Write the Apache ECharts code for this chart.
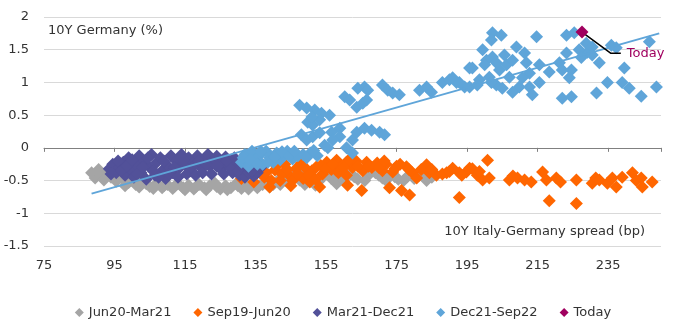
<!DOCTYPE html>
<html><head><meta charset="utf-8">
<script src="https://cdn.jsdelivr.net/npm/echarts@6/dist/echarts.min.js"></script>
<style>html,body{margin:0;padding:0;background:#fff}#c{width:686px;height:336px}</style>
</head><body><div id="c"></div>
<script>
const seriesNames = ['Jun20-Mar21','Sep19-Jun20','Mar21-Dec21','Dec21-Sep22','Today'];
const xTicks = {min:75, max:250, interval:20};
const yTicks = {min:-1.5, max:2, interval:0.5};

const jun20Mar21 = [[88.5,-0.38],[89.5,-0.46],[90.5,-0.33],[91.2,-0.42],[92,-0.49],[93,-0.37],[94,-0.45],[95.5,-0.51],[97,-0.46],[99,-0.53],[101,-0.56],[103,-0.51],[105,-0.59],[107,-0.54],[108.5,-0.61],[110,-0.56],[111.5,-0.62],[113,-0.55],[114.5,-0.61],[116,-0.57],[117.5,-0.63],[119,-0.56],[120.5,-0.61],[122,-0.58],[123.5,-0.54],[125,-0.63],[126.5,-0.58],[128,-0.61],[129.5,-0.55],[131,-0.62],[132.5,-0.58],[134,-0.54],[135.5,-0.61],[137,-0.56],[138.5,-0.50],[140,-0.56],[141.5,-0.49],[143,-0.45],[144.5,-0.53],[146,-0.42],[147.5,-0.49],[149,-0.56],[151,-0.44],[153,-0.51],[155,-0.38],[156.5,-0.47],[158,-0.55],[159.5,-0.42],[162,-0.40],[164,-0.48],[167,-0.42],[169,-0.38],[171,-0.46],[173.5,-0.40],[175.5,-0.48],[178,-0.44],[181.5,-0.42],[183.5,-0.50],[185,-0.45],
[98,-0.58],[100,-0.50],[102,-0.60],[104,-0.55],[106,-0.62],[109,-0.58],[112,-0.59],[115,-0.64],[118,-0.60],[121,-0.64],[124,-0.59],[127,-0.64],[130,-0.58],[133,-0.63],[136,-0.58],[139,-0.60],[142,-0.56],[145,-0.47],[148,-0.40],[150,-0.50],[152,-0.57],[154,-0.45],[157,-0.40],[160,-0.49],[163,-0.44],[166,-0.50],[170,-0.42],[172,-0.50],[174.5,-0.44],[177,-0.50],[180,-0.47]];

const sep19Jun20 = [[131,-0.47],[133,-0.36],[134.5,-0.52],[136.5,-0.27],[137.5,-0.45],[139,-0.60],[140.5,-0.34],[142,-0.50],[143.3,-0.25],[144.5,-0.42],[145,-0.58],[146.5,-0.32],[148,-0.23],[148.5,-0.47],[150.4,-0.52],[151,-0.35],[152.3,-0.29],[153.2,-0.60],[154,-0.40],[155.2,-0.22],[156.5,-0.33],[158,-0.19],[159,-0.30],[160.8,-0.22],[160.8,-0.42],[161.1,-0.57],[162.5,-0.30],[163.5,-0.20],[165.1,-0.65],[165.4,-0.35],[166.5,-0.22],[168,-0.30],[169.5,-0.23],[171,-0.35],[172,-0.25],[173,-0.61],[173.9,-0.37],[175,-0.28],[176.4,-0.65],[177.8,-0.29],[178.7,-0.72],[179.5,-0.38],[180.7,-0.46],[183.5,-0.26],[184.3,-0.38],[186.3,-0.42],[189.2,-0.38],[190.9,-0.31],[192.8,-0.38],[192.8,-0.76],[194.8,-0.37],[195.7,-0.31],[196.5,-0.32],[197.9,-0.42],[199.4,-0.49],[200.8,-0.19],[201.3,-0.46],[207,-0.49],[208,-0.43],[209.3,-0.46],[211.3,-0.49],[213.2,-0.52],[216.4,-0.37],[217.5,-0.49],[218.3,-0.81],[220.3,-0.46],[221.5,-0.52],[226,-0.49],[226,-0.85],[230.5,-0.54],[231.5,-0.46],[232.5,-0.49],[234.8,-0.54],[236.2,-0.46],[237.3,-0.60],[239,-0.45],[241.9,-0.38],[243,-0.50],[244.4,-0.46],[244.7,-0.60],[247.5,-0.52],
[138,-0.38],[139.5,-0.50],[141,-0.28],[142.5,-0.40],[144,-0.33],[145.5,-0.50],[147,-0.40],[149,-0.30],[150,-0.42],[152,-0.48],[153.5,-0.27],[155,-0.32],[157,-0.25],[158.5,-0.38],[160,-0.30],[161.5,-0.18],[164,-0.28],[167,-0.28],[170,-0.30],[171.5,-0.20],[174.5,-0.32],[176,-0.25],[178.5,-0.33],[182,-0.33],[185,-0.33],[188,-0.40],[190,-0.36],[193.5,-0.42],[198.5,-0.36]];

const mar21Dec21 = [[93.5,-0.32],[94.5,-0.25],[95.5,-0.38],[96.5,-0.30],[97.5,-0.22],[98,-0.42],[99,-0.15],[99.5,-0.33],[100.5,-0.45],[101,-0.25],[102,-0.12],[102.5,-0.38],[103.5,-0.20],[104,-0.48],[105,-0.30],[105.5,-0.10],[106.5,-0.42],[107,-0.22],[108,-0.15],[108.5,-0.35],[109.5,-0.47],[110,-0.27],[111,-0.12],[111.5,-0.38],[112.5,-0.20],[113.5,-0.30],[114,-0.10],[115,-0.25],[116,-0.15],[116.5,-0.35],[117.5,-0.22],[118.5,-0.12],[119.5,-0.30],[120.5,-0.18],[121.5,-0.10],[122,-0.28],[123,-0.20],[124,-0.13],[125,-0.32],[125.5,-0.22],[126.5,-0.14],[127.5,-0.28],[128.5,-0.38],[129.5,-0.25],[130.5,-0.42],[131.5,-0.33],[132.5,-0.40],[133.5,-0.30],[134.5,-0.43],[135.5,-0.38],
[94,-0.40],[96,-0.20],[97,-0.35],[98.5,-0.28],[100,-0.18],[101.5,-0.40],[103,-0.30],[104.5,-0.15],[106,-0.35],[107.5,-0.45],[109,-0.20],[110.5,-0.40],[112,-0.30],[113,-0.45],[114.5,-0.18],[115.5,-0.40],[117,-0.30],[118,-0.42],[119,-0.20],[120,-0.38],[121,-0.25],[122.5,-0.40],[124,-0.28],[126,-0.40],[127,-0.20],[128,-0.32],[129,-0.15],[130,-0.35],[131,-0.28],[132,-0.45],[133,-0.38],[134,-0.35],[136.5,-0.30]];

const dec21Sep22 = [[131,-0.22],[132,-0.10],[133,-0.28],[134,-0.05],[135,-0.18],[136,-0.12],[137,-0.25],[138,-0.05],[139,-0.15],[140,-0.22],[141,-0.08],[142,-0.18],[143,-0.12],[144,-0.05],[145.5,-0.17],[147,-0.12],[148.5,-0.10],[150.5,-0.08],[152.5,-0.12],
[131.5,-0.15],[133.5,-0.18],[135.5,-0.25],[136.5,-0.05],[138.5,-0.22],[140.5,-0.14],[142.5,-0.06],[144.5,-0.12],[146,-0.05],[149.5,-0.15],[151.5,-0.04],
[147.5,0.65],[149.5,0.61],[151.8,0.58],[153.7,0.53],[156,0.50],[149.8,0.39],[151.2,0.35],[153.2,0.43],[151,0.47],
[158.9,0.30],[156.6,0.24],[158.9,0.17],[148,0.20],[149.5,0.12],[151.2,0.17],[153.2,0.23],[154.6,0.04],[155.5,0.0],[156.9,0.12],[160.8,0.0],[162.5,-0.08],[162.5,0.12],[163.7,0.24],[165.9,0.30],[167.9,0.27],[170.2,0.24],[171.6,0.20],
[160.3,0.78],[161.7,0.73],[164,0.91],[165.9,0.93],[166.8,0.88],[163.7,0.62],[165.4,0.68],[166.5,0.73],[171,0.96],[172.5,0.88],[173.9,0.84],[175.8,0.81],[181.5,0.88],[183.5,0.93],[184.9,0.85],[188,1.0],[190,1.04],[192,1.0],[194.3,0.93],[195.7,1.22],
[202.2,1.76],[204.7,1.72],[201.9,1.65],[199.4,1.50],[200.5,1.34],[202.2,1.39],[209,1.54],[205.6,1.42],[211.3,1.45],[214.7,1.70],[196.5,1.22],[192.8,1.0],[195.7,0.93],[198.5,1.04],[201.3,1.08],[204.2,1.19],[206.2,1.27],[207,1.08],[209.8,0.93],[207.9,0.85],[212.7,0.93],[213.5,0.81],[215.5,1.27],[218.3,1.16],[215.5,1.0],[221.2,1.30],[223.2,1.45],[222,1.19],[224.6,1.19],[224,1.07],[222,0.76],[224.6,0.78],[223.2,1.72],[225.4,1.76],[228.8,1.60],[229.1,1.46],[230.5,1.54],[232.5,1.30],[231.7,0.84],[234.8,1.0],[235.9,1.57],[237.3,1.53],[239.6,1.22],[239,1.0],[241,0.91],[244.4,0.79],[246.7,1.62],[248.7,0.93],
[200,1.27],[203.3,1.30],[211.8,1.30],[212.7,1.14],[203.3,0.96],[210.7,1.07],[226.8,1.50],[230.5,1.42],[227.4,1.38],[207.9,1.34],[205,0.91],[201.9,1.0],[197.9,0.96],[190.9,1.07]];

const today = [[227.6,1.77]];
const trendLine = [[88.5,-0.70],[249.5,1.75]];
const todayCallout = [[227.6,1.77],[235.8,1.445],[238.6,1.445]];
const todayLabel = 'Today';

const FONT = 'DejaVu Sans';
const TXT = '#333333';
const colors = ['#a5a5a5','#ff6600','#525199','#5fa5d9','#a0005f'];

function scatter(name, data, color) {
  return {name, type:'scatter', data, symbol:'diamond', symbolSize:13,
    itemStyle:{color, opacity:1}, emphasis:{disabled:true}, xAxisIndex:0};
}

const chart = echarts.init(document.getElementById('c'), null, {renderer:'canvas'});
chart.setOption({
  animation:false,
  grid:{left:44, right:25, top:17, bottom:90},
  xAxis:[
    {type:'value', min:xTicks.min, max:xTicks.max, interval:xTicks.interval,
     axisLine:{show:false, onZero:false}, axisTick:{show:false}, splitLine:{show:false},
     axisLabel:{margin:13, color:TXT, fontFamily:FONT, fontSize:13, showMaxLabel:false}},
    {type:'value', min:xTicks.min, max:xTicks.max, interval:xTicks.interval, position:'bottom',
     axisLine:{show:true, onZero:true, lineStyle:{color:'#808080', width:1}},
     axisTick:{show:true, length:4, lineStyle:{color:'#808080'}},
     axisLabel:{show:false}, splitLine:{show:false}}
  ],
  yAxis:{type:'value', min:yTicks.min, max:yTicks.max, interval:yTicks.interval,
    axisLine:{show:false}, axisTick:{show:false},
    splitLine:{lineStyle:{color:'#d9d9d9', width:1}},
    axisLabel:{margin:15, color:TXT, fontFamily:FONT, fontSize:13}},
  legend:{data:seriesNames, icon:'diamond', itemWidth:9, itemHeight:9, itemGap:22,
    left:'center', top:301, textStyle:{color:TXT, fontFamily:FONT, fontSize:13}},
  graphic:[
    {type:'text', x:48, y:31, style:{text:'10Y Germany (%)', fill:TXT, font:'13px "DejaVu Sans"', verticalAlign:'middle', align:'left'}},
    {type:'text', x:645, y:232, style:{text:'10Y Italy-Germany spread (bp)', fill:TXT, font:'13px "DejaVu Sans"', verticalAlign:'middle', align:'right'}}
  ],
  series:[
    scatter(seriesNames[0], jun20Mar21, colors[0]),
    scatter(seriesNames[1], sep19Jun20, colors[1]),
    scatter(seriesNames[2], mar21Dec21, colors[2]),
    scatter(seriesNames[3], dec21Sep22, colors[3]),
    {name:'trend', type:'line', data:trendLine, symbol:'none', lineStyle:{color:'#5fa5d9', width:2}, z:3, silent:true},
    {name:'callout', type:'line', data:todayCallout, symbol:'none', lineStyle:{color:'#000', width:1.5}, z:4, silent:true,
     endLabel:{show:true, formatter:todayLabel, color:'#a0005f', fontFamily:FONT, fontSize:13, distance:6}},
    Object.assign(scatter(seriesNames[4], today, colors[4]), {z:5})
  ]
});
</script></body></html>
